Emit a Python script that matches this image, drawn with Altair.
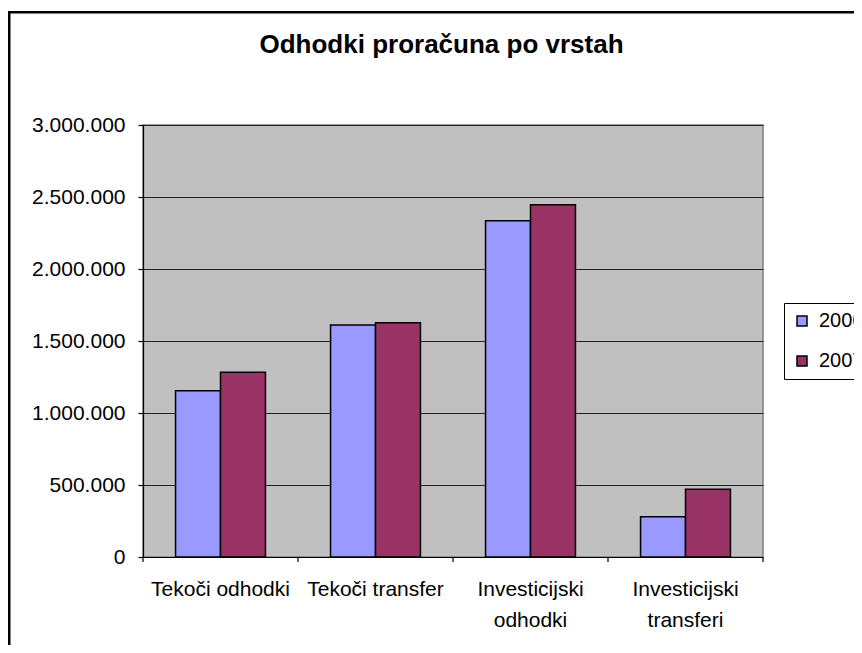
import altair as alt
import pandas as pd

categories = ["Tekoči odhodki", "Tekoči transfer", "Investicijski odhodki", "Investicijski transferi"]
years = ["2006", "2007"]
v2006 = [1155000, 1611000, 2335000, 280000]
v2007 = [1283000, 1627000, 2446000, 470000]
y_ticks = [0, 500000, 1000000, 1500000, 2000000, 2500000, 3000000]

rows = []
for c, a, b in zip(categories, v2006, v2007):
    rows.append({"kategorija": c, "leto": "2006", "vrednost": a})
    rows.append({"kategorija": c, "leto": "2007", "vrednost": b})
df = pd.DataFrame(rows)
cat_df = pd.DataFrame({"kategorija": categories})

FONT = "Liberation Sans"
P_IN = 0.42
STEP = 620 / 4

x_axis = alt.Axis(
    labelAngle=0,
    tickSize=5,
    tickColor="transparent",
    labelPadding=16,
    labelFontSize=21,
    labelLineHeight=31,
    labelExpr="indexof(datum.value, 'Investicijski') == 0 ? split(datum.value, ' ') : datum.value",
    grid=False,
)
x_scale = alt.Scale(domain=categories, paddingInner=P_IN, paddingOuter=P_IN / 2)

bars = alt.Chart(df).mark_bar(stroke="black", strokeWidth=1.5).encode(
    x=alt.X("kategorija:N", sort=categories, title=None, scale=x_scale, axis=x_axis),
    xOffset=alt.XOffset("leto:N", sort=years),
    y=alt.Y(
        "vrednost:Q",
        title=None,
        stack=None,
        scale=alt.Scale(domain=[0, 3000000], nice=False),
        axis=alt.Axis(
            values=y_ticks,
            tickSize=5,
            labelPadding=13,
            labelFontSize=21,
            gridColor="#222222",
            gridWidth=1.2,
            labelExpr="replace(replace(format(datum.value, ','), ',', '.'), ',', '.')",
        ),
    ),
    color=alt.Color(
        "leto:N",
        scale=alt.Scale(domain=years, range=["#9999FF", "#993366"]),
        legend=alt.Legend(
            title=None,
            orient="none",
            legendX=641,
            legendY=178,
            symbolType="square",
            symbolSize=100,
            symbolStrokeColor="black",
            labelFontSize=20,
            labelOffset=7,
            rowPadding=20,
            strokeColor="black",
            padding=8,
        ),
    ),
)

# category boundary ticks below the axis (Excel style)
cat_ticks = alt.Chart(cat_df).mark_rule(
    color="black", strokeWidth=1.2, xOffset=-P_IN * STEP / 2
).encode(
    x=alt.X("kategorija:N", sort=categories, title=None, scale=x_scale, axis=x_axis, bandPosition=0),
    y=alt.value(432),
    y2=alt.value(437),
)
end_tick = alt.Chart(alt.Data(values=[{"k": 1}])).mark_rule(color="black", strokeWidth=1.2).encode(
    x=alt.value(620),
    y=alt.value(432),
    y2=alt.value(437),
)

border = alt.Chart(alt.Data(values=[{"k": 1}])).mark_rect(
    fill="transparent", stroke="black", strokeWidth=2.5
).encode(
    x=alt.value(-133.75),
    x2=alt.value(760),
    y=alt.value(-112.75),
    y2=alt.value(560),
)

chart = alt.layer(border, bars, cat_ticks, end_tick).properties(
    width=620,
    height=432,
    padding={"left": 135, "top": 117, "right": 91, "bottom": 88},
    autosize=alt.AutoSizeParams(type="none"),
    title=alt.TitleParams(
        "Odhodki proračuna po vrstah",
        fontSize=26,
        fontWeight="bold",
        font=FONT,
        color="black",
        anchor="middle",
        frame="group",
        baseline="alphabetic",
        offset=-68,
        dx=-11.5,
    ),
).configure(
    font=FONT,
    background="white",
).configure_view(
    fill="#C0C0C0",
    stroke="#808080",
    strokeWidth=1.5,
).configure_axis(
    labelColor="black",
    labelFont=FONT,
    domainColor="black",
    domainWidth=1.2,
    tickColor="black",
    tickWidth=1.2,
).configure_legend(
    labelFont=FONT,
    labelColor="black",
)

chart.save("out.html", embed_options={"renderer": "svg", "actions": False})
